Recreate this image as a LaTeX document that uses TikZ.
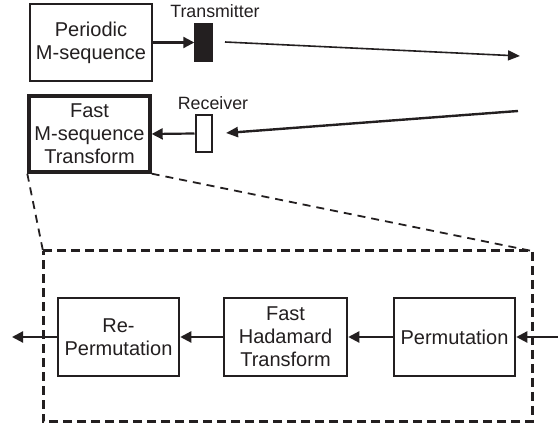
\documentclass[tikz,border=0pt]{standalone}
\usepackage{fontspec}
\setmainfont{Liberation Sans}
\usetikzlibrary{arrows.meta}
\definecolor{ink}{HTML}{231F20}
\begin{document}
\begin{tikzpicture}[x=1pt,y=-1pt,
  box/.style={draw=ink, line width=2.5pt, fill=white, align=center, text=ink,
    font=\fontsize{20}{23}\selectfont, inner sep=0pt},
  lbl/.style={text=ink, font=\fontsize{17.8}{20}\selectfont, inner sep=0pt},
  arr/.style={draw=ink, -{Triangle[length=11pt,width=11pt]}, line width=2.2pt},
  longarr/.style={draw=ink, -{Triangle[length=12pt,width=10pt]}},
  zoomline/.style={draw=ink, line width=1.8pt, dash pattern=on 8pt off 6pt},
  zoombox/.style={draw=ink, line width=3pt, dash pattern=on 9pt off 5pt}]
\useasboundingbox (0,0) rectangle (558,430);

% top part
\node[box, minimum width=122pt, minimum height=77pt] (pm) at (91,42.5) {Periodic\\M-sequence};
\node[box, line width=3.4pt, minimum width=121pt, minimum height=76pt] (fm) at (89.5,134) {Fast\\M-sequence\\Transform};
\node[draw=ink, fill=ink, minimum width=18pt, minimum height=38pt, inner sep=0pt] (tx) at (203.5,42.5) {};
\node[draw=ink, fill=white, line width=2pt, minimum width=16pt, minimum height=37pt, inner sep=0pt] (rx) at (203.5,133.5) {};
\node[lbl] (txl) at (215,11) {Transmitter};
\node[lbl] (rxl) at (213,103) {Receiver};

\draw[arr] (pm.east) -- (tx.west);
\draw[arr] (rx.west) -- (fm.east);

\coordinate (t1) at (225,42);
\coordinate (t2) at (520,56);
\coordinate (r1) at (518,111);
\coordinate (r2) at (226,133);
\draw[longarr, line width=1.6pt] (t1) -- (t2);
\draw[longarr, line width=2.4pt] (r1) -- (r2);

% zoom box
\coordinate (dtl) at (43,251);
\coordinate (dtr) at (532,251);
\coordinate (dbr) at (532,422);
\coordinate (dbl) at (43,422);
\draw[zoomline] (fm.south west) -- (dtl);
\draw[zoomline] (fm.south east) -- (dtr);
\draw[zoombox] (dtl) -- (dtr) -- (dbr) -- (dbl) -- cycle;

\node[box, minimum width=121pt, minimum height=78pt] (rp) at (118.5,337) {Re-\\Permutation};
\node[box, minimum width=123pt, minimum height=78pt] (fh) at (285.5,337) {Fast\\Hadamard\\Transform};
\node[box, minimum width=121pt, minimum height=78pt] (pe) at (454.5,337) {Permutation};

\coordinate (in) at (558,337);
\coordinate (out) at (12,337);
\draw[arr] (in) -- (pe.east);
\draw[arr] (pe.west) -- (fh.east);
\draw[arr] (fh.west) -- (rp.east);
\draw[arr] (rp.west) -- (out);
\end{tikzpicture}
\end{document}
